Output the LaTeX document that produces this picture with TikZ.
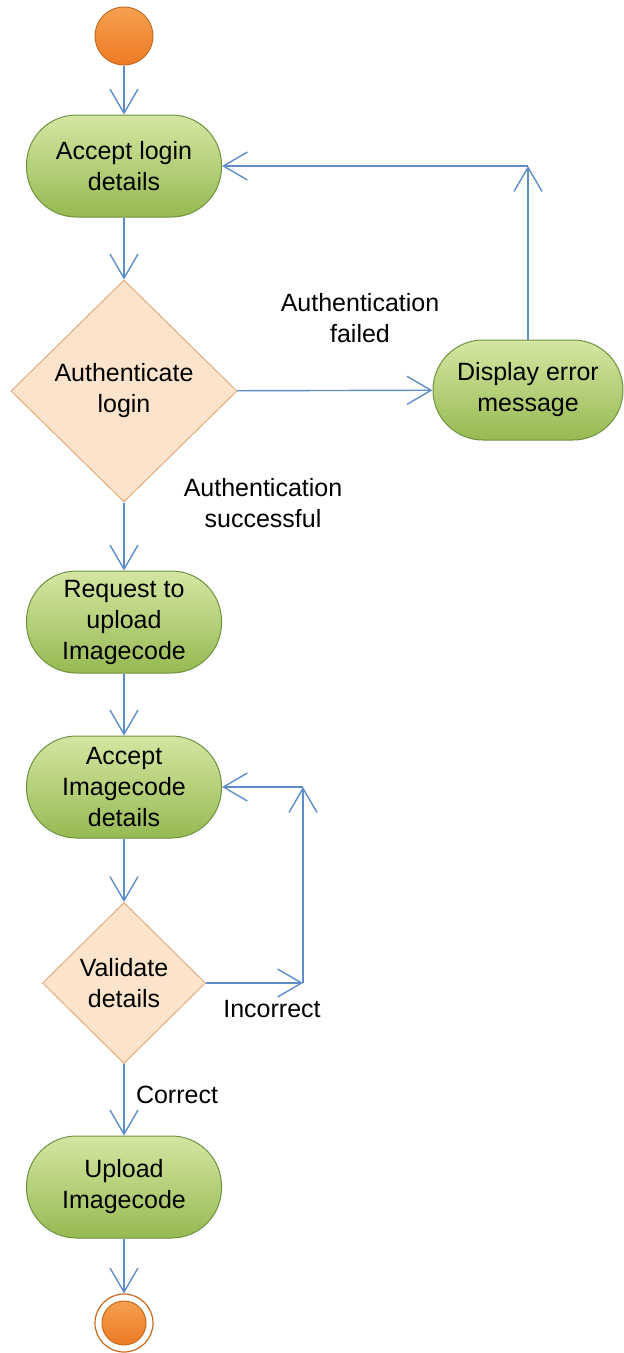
\documentclass[tikz,border=0pt]{standalone}
\usepackage{fontspec}
\setmainfont{Liberation Sans}
\usetikzlibrary{positioning,calc,shapes.geometric,arrows.meta}

\definecolor{flowblue}{HTML}{5F8DC8}
\definecolor{acttop}{HTML}{D4E6A2}
\definecolor{actbottom}{HTML}{96BA52}
\definecolor{actborder}{HTML}{6E9240}
\definecolor{decfill}{HTML}{FCE3CB}
\definecolor{decborder}{HTML}{E2AC7E}
\definecolor{dottop}{HTML}{F6A050}
\definecolor{dotbottom}{HTML}{EC7A22}
\definecolor{dotborder}{HTML}{C8691E}
\newcommand{\flowfont}{\fontsize{25}{31}\selectfont}

\begin{document}
\begin{tikzpicture}[
x=1pt, y=-1pt,
action/.style={rectangle, rounded corners=50pt, draw=actborder, line width=1pt, top color=acttop, bottom color=actbottom, minimum width=195pt, minimum height=102pt, align=center, font=\flowfont},
decision/.style={diamond, draw=decborder, line width=1pt, fill=decfill, align=center, font=\flowfont, inner sep=0pt},
dot/.style={circle, draw=dotborder, line width=1pt, top color=dottop, bottom color=dotbottom, minimum size=#1, inner sep=0pt},
flow/.style={draw=flowblue, line width=1.4pt, -{Straight Barb[length=24pt,width=28pt]}},
note/.style={align=center, font=\flowfont}
]
	\useasboundingbox (0,0) rectangle (624,1353);

	\node at (124,36) [dot=58pt] (start) {};
	\node at (124,166) [action] (login) {Accept login\\details};
	\node at (124,391) [decision, minimum width=226pt, minimum height=222pt] (auth) {Authenticate\\login};
	\node at (528,390) [action, minimum width=190pt, minimum height=100pt] (err) {Display error\\message};
	\node at (124,622) [action] (request) {Request to\\upload\\Imagecode};
	\node at (124,787) [action] (acceptimg) {Accept\\Imagecode\\details};
	\node at (124,983) [decision, minimum width=163pt, minimum height=161pt] (validate) {Validate\\details};
	\node at (124,1187) [action] (upload) {Upload\\Imagecode};
	\node at (124,1323) [circle, draw=dotborder, line width=1.2pt, fill=white, minimum size=58pt] (stop) {};
	\node at (stop) [dot=44pt] (stopdot) {};

	\node at (360,318) [note] (failtext) {Authentication\\failed};
	\node at (263,503) [note] (oktext) {Authentication\\successful};
	\node at (272,1009) [note] (wrongtext) {Incorrect};
	\node at (177,1095) [note] (righttext) {Correct};

	\draw [flow] (start) -- (login);
	\draw [flow] (login) -- (auth);
	\draw [flow] (auth) -- (err);
	\coordinate (failcorner) at (err.north |- login.east);
	\draw [flow] (err.north) -- (failcorner);
	\draw [flow] (failcorner) -- (login.east);

	\draw [flow] (auth) -- (request);
	\draw [flow] (request) -- (acceptimg);
	\draw [flow] (acceptimg) -- (validate);

	\coordinate (retryin) at (303,983);
	\coordinate (retryup) at (303,787);
	\draw [flow] (validate.east) -- (retryin);
	\draw [flow] (retryin) -- (retryup);
	\draw [flow] (retryup) -- (acceptimg.east);

	\draw [flow] (validate) -- (upload);
	\draw [flow] (upload) -- (stop);
\end{tikzpicture}
\end{document}
